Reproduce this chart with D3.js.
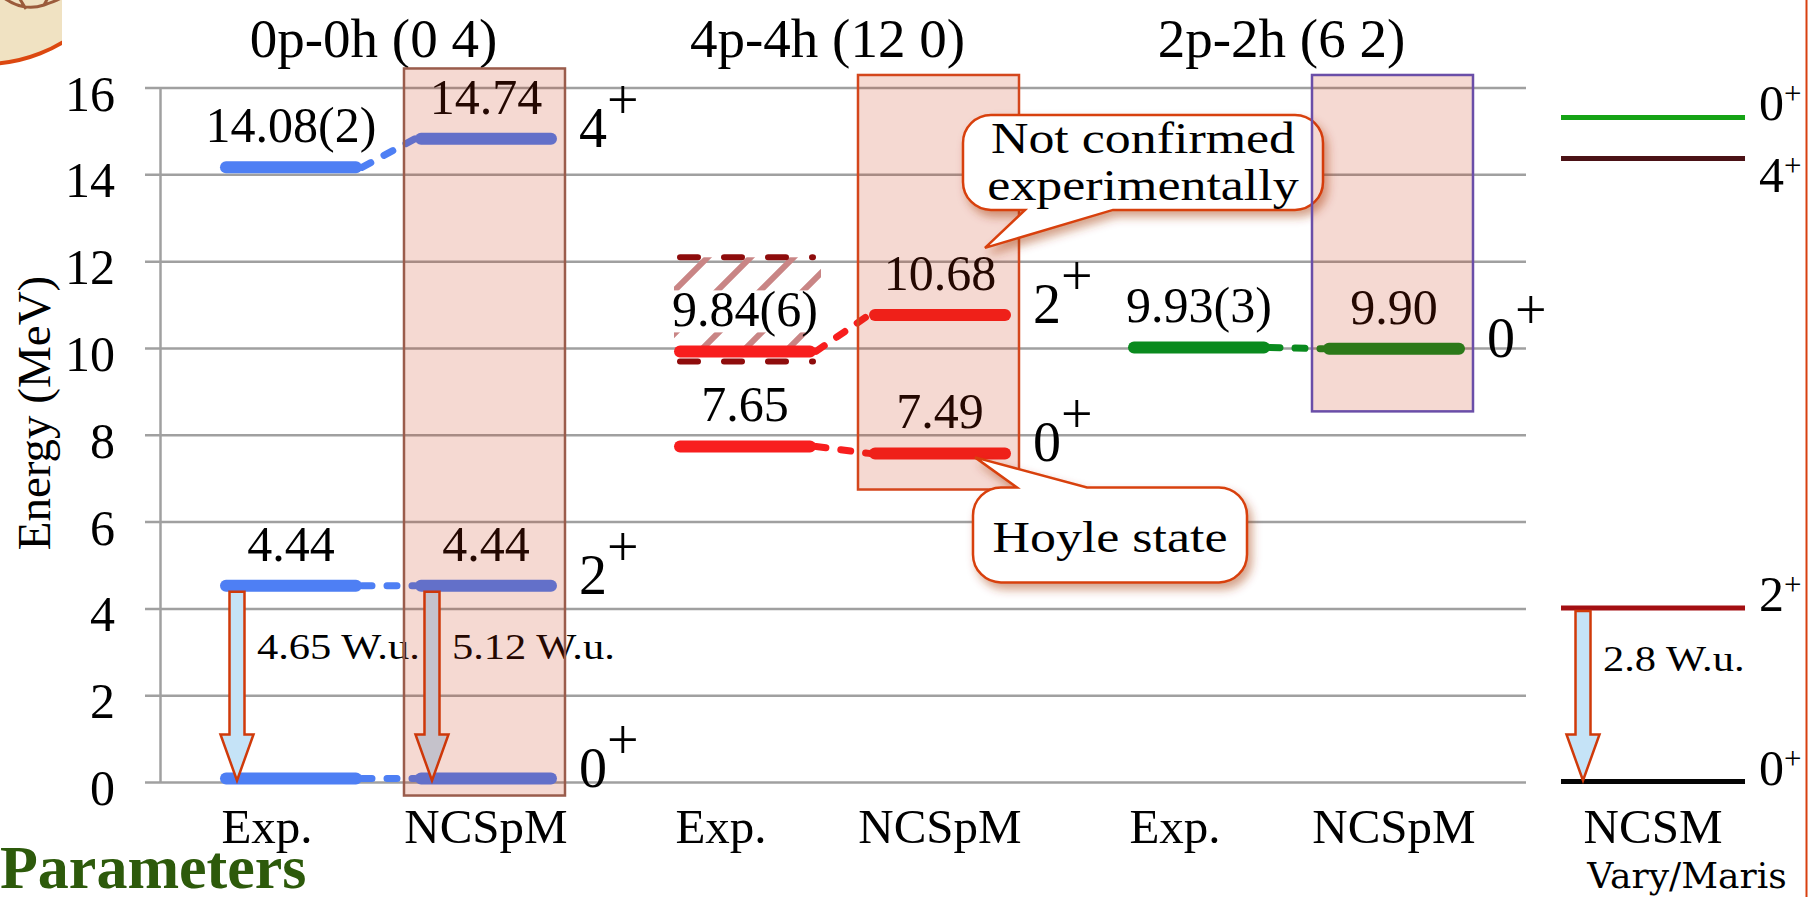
<!DOCTYPE html>
<html>
<head>
<meta charset="utf-8">
<script src="https://cdn.jsdelivr.net/npm/d3@7"></script>
<style>
  html, body { margin: 0; padding: 0; background: #fff; overflow: hidden; }
  svg { display: block; }
</style>
</head>
<body>
<div id="chart"></div>
<script>
// Categories: groups (configurations) and the two models inside each one
const groups = ["0p-0h (0 4)", "4p-4h (12 0)", "2p-2h (6 2)", "NCSM"];
const models = ["Exp.", "NCSpM"];
const columnGroup = [0, 0, 1, 1, 2, 2, 3];
const columnModel = ["Exp.", "NCSpM", "Exp.", "NCSpM", "Exp.", "NCSpM", "Exp."];
const columnLabels = ["Exp.", "NCSpM", "Exp.", "NCSpM", "Exp.", "NCSpM", "NCSM"];
const yTicks = [0, 2, 4, 6, 8, 10, 12, 14, 16];

// Energy levels (MeV)
const levelColumn = [0, 0, 0, 1, 1, 1, 2, 2, 3, 3, 4, 5, 6, 6, 6, 6];
const levelEnergy = [0, 4.44, 14.08, 0, 4.44, 14.74, 7.65, 9.84, 7.49, 10.68, 9.93, 9.90, 0, 4.0, 14.35, 15.3];
const levelText = ["", "4.44", "14.08(2)", "", "4.44", "14.74", "7.65", "9.84(6)", "7.49", "10.68", "9.93(3)", "9.90", "", "", "", ""];
const levelSpin = ["", "", "", "0", "2", "4", "", "", "0", "2", "", "0", "0", "2", "4", "0"];

// Dashed connectors Exp. -> NCSpM (pairs of level indices)
const links = [[0, 3], [1, 4], [2, 5], [6, 8], [7, 9], [10, 11]];

// E2 transitions
const transFrom = [1, 4, 13];
const transTo = [0, 3, 12];
const transText = ["4.65 W.u.", "5.12 W.u.", "2.8 W.u."];

// Highlight boxes round the NCSpM columns (energy range)
const boxColumn = [1, 3, 5];
const boxLow = [-0.3, 6.75, 8.55];
const boxHigh = [16.45, 16.3, 16.3];

// Broad experimental 2+ state (hatched band)
const hatchLevel = 7;
const hatchLow = 9.7;
const hatchHigh = 12.1;

// Callouts
const calloutLevel = [9, 8];
const calloutText = [["Not confirmed", "experimentally"], ["Hoyle state"]];

// Styles
const serif = "'Liberation Serif', 'Times New Roman', serif";
const groupColor = ["#4e7ff4", "#f81e1e", "#0a8a1e"];
const ncsmColor = d3.scaleOrdinal([0, 4.0, 14.35, 15.3], ["#050505", "#a30f12", "#4b1216", "#15a315"]);
const boxStroke = ["#9a5c4c", "#d4461c", "#6a4ea8"];

const width = 1808, height = 897;
const axisX = 160, gridLeft = 145, gridRight = 1526;

const svg = d3.select("#chart")
  .append("svg")
  .attr("width", width)
  .attr("height", height);

const defs = svg.append("defs");

const shadow = defs.append("filter")
  .attr("id", "shadow")
  .attr("x", "-20%").attr("y", "-30%")
  .attr("width", "140%").attr("height", "170%");
shadow.append("feDropShadow")
  .attr("dx", 4).attr("dy", 6)
  .attr("stdDeviation", 5)
  .attr("flood-color", "#a03010")
  .attr("flood-opacity", 0.45);

const hatch = defs.append("pattern")
  .attr("id", "hatch")
  .attr("patternUnits", "userSpaceOnUse")
  .attr("width", 43).attr("height", 43)
  .attr("patternTransform", "translate(19,0)");
hatch.append("path")
  .attr("d", "M-11,11 L11,-11 M0,43 L43,0 M32,54 L54,32")
  .attr("stroke", "#c98585")
  .attr("stroke-width", 6);

defs.append("clipPath").attr("id", "logoClip")
  .append("rect").attr("x", 0).attr("y", 0).attr("width", 62).attr("height", 70);

// Scales
const y = d3.scaleLinear().domain([0, 16]).range([782.5, 88]);
const xGroup = d3.scaleBand().domain(groups).range([193.5, 1945.5]).paddingInner(0.141);
const xModel = d3.scaleBand().domain(models).range([0, xGroup.bandwidth()]);
const colX = c => xGroup(groups[columnGroup[c]]) + xModel(columnModel[c]) + xModel.bandwidth() / 2;

const isNcsm = i => columnGroup[levelColumn[i]] === 3;
const halfBar = i => isNcsm(i) ? 92 : 65;
const barX = i => colX(levelColumn[i]);
const barY = i => y(levelEnergy[i]) - (isNcsm(i) ? 1 : 4);
const barColor = i => isNcsm(i) ? ncsmColor(levelEnergy[i]) : groupColor[columnGroup[levelColumn[i]]];

// Logo fragment in the corner
const logo = svg.append("g").attr("clip-path", "url(#logoClip)");
logo.append("circle")
  .attr("cx", -15).attr("cy", -86).attr("r", 150)
  .attr("fill", "#f0e2c2")
  .attr("stroke", "#dc4810")
  .attr("stroke-width", 4);
logo.append("path")
  .attr("d", "M4,-2 Q24,12 44,5 T64,-4 M26,9 L18,-4 M44,5 L50,-6")
  .attr("fill", "none")
  .attr("stroke", "#9b5b3b")
  .attr("stroke-width", 3);

// Right edge rule
svg.append("line")
  .attr("x1", 1806.5).attr("x2", 1806.5)
  .attr("y1", 0).attr("y2", height)
  .attr("stroke", "#d84010")
  .attr("stroke-width", 2);

// Horizontal gridlines
svg.selectAll(".grid")
  .data(yTicks)
  .join("line")
  .attr("class", "grid")
  .attr("x1", gridLeft).attr("x2", gridRight)
  .attr("y1", d => y(d)).attr("y2", d => y(d))
  .attr("stroke", "#a0a0a0")
  .attr("stroke-width", 2.5);

// Y axis
const yAxis = svg.append("g")
  .attr("transform", `translate(${axisX},0)`)
  .call(d3.axisLeft(y).tickValues(yTicks).tickSize(0).tickPadding(45));
yAxis.select(".domain")
  .attr("stroke", "#a0a0a0")
  .attr("stroke-width", 2.5);
yAxis.selectAll(".tick text")
  .attr("dy", "0.44em")
  .style("font-family", serif)
  .style("font-size", "50px")
  .attr("fill", "#000");

svg.append("text")
  .attr("transform", "translate(50,413) rotate(-90)")
  .attr("text-anchor", "middle")
  .style("font-family", serif)
  .style("font-size", "47px")
  .text("Energy (MeV)");

// Group titles
svg.selectAll(".group-title")
  .data(groups.filter(g => g !== "NCSM"))
  .join("text")
  .attr("class", "group-title")
  .attr("x", g => xGroup(g) + xGroup.bandwidth() / 2 - 15)
  .attr("y", 57)
  .attr("text-anchor", "middle")
  .style("font-family", serif)
  .style("font-size", "55px")
  .text(g => g);

// Column labels (the "Exp." ones sit a little left of their bars)
svg.selectAll(".col-label")
  .data(columnLabels)
  .join("text")
  .attr("class", "col-label")
  .attr("x", (d, i) => colX(i) + (d === "Exp." ? -24 : 0))
  .attr("y", 843)
  .attr("text-anchor", "middle")
  .style("font-family", serif)
  .style("font-size", "49px")
  .text(d => d);

svg.append("text")
  .attr("x", colX(6) + 34)
  .attr("y", 888)
  .attr("text-anchor", "middle")
  .style("font-family", "'DejaVu Serif', serif")
  .style("font-size", "36px")
  .text("Vary/Maris");

svg.append("text")
  .attr("x", 0)
  .attr("y", 888)
  .style("font-family", serif)
  .style("font-size", "62px")
  .style("font-weight", "bold")
  .attr("fill", "#2d5a0b")
  .text("Parameters");

// Hatched band for the broad experimental state
const hx = barX(hatchLevel);
svg.append("rect")
  .attr("x", hx - 71)
  .attr("y", y(hatchHigh))
  .attr("width", 147)
  .attr("height", barY(hatchLevel) - y(hatchHigh))
  .attr("fill", "url(#hatch)");
svg.selectAll(".hatch-edge")
  .data([hatchLow, hatchHigh])
  .join("line")
  .attr("class", "hatch-edge")
  .attr("x1", hx - 65).attr("x2", hx + 68)
  .attr("y1", d => y(d)).attr("y2", d => y(d))
  .attr("stroke", "#8e0c0c")
  .attr("stroke-width", 6)
  .attr("stroke-linecap", "round")
  .attr("stroke-dasharray", "18 26");

// Dashed connectors
svg.selectAll(".link")
  .data(links)
  .join("line")
  .attr("class", "link")
  .attr("x1", d => barX(d[0]) + halfBar(d[0]) + 6)
  .attr("y1", d => barY(d[0]))
  .attr("x2", d => barX(d[1]) - halfBar(d[1]) - 6)
  .attr("y2", d => barY(d[1]))
  .attr("stroke", d => barColor(d[0]))
  .attr("stroke-width", 7)
  .attr("stroke-linecap", "round")
  .attr("stroke-dasharray", "10 15");

// Level bars
const levelIdx = d3.range(levelEnergy.length);
svg.selectAll(".level")
  .data(levelIdx)
  .join("line")
  .attr("class", "level")
  .attr("x1", i => barX(i) - halfBar(i))
  .attr("x2", i => barX(i) + halfBar(i))
  .attr("y1", i => barY(i))
  .attr("y2", i => barY(i))
  .attr("stroke", i => barColor(i))
  .attr("stroke-width", i => isNcsm(i) ? 5 : 12)
  .attr("stroke-linecap", i => isNcsm(i) ? "butt" : "round");

// Value labels
const valueLabels = svg.selectAll(".value")
  .data(levelIdx.filter(i => levelText[i] !== ""))
  .join("text")
  .attr("class", "value")
  .attr("x", i => barX(i))
  .attr("y", i => barY(i) - 25)
  .attr("text-anchor", "middle")
  .style("font-family", serif)
  .style("font-size", "50px")
  .text(i => levelText[i]);

// white text box behind the hatched level's label
valueLabels.filter(i => i === hatchLevel).each(function () {
  const bb = this.getBBox();
  const base = +this.getAttribute("y");
  svg.insert("rect", () => this)
    .attr("x", bb.x - 8)
    .attr("y", base - 36)
    .attr("width", bb.width + 16)
    .attr("height", 42)
    .attr("fill", "#fff");
});

// Spin labels (main columns)
const mainSpins = levelIdx.filter(i => levelSpin[i] !== "" && !isNcsm(i));
const spinText = svg.selectAll(".spin")
  .data(mainSpins)
  .join("text")
  .attr("class", "spin")
  .attr("x", i => barX(i) + halfBar(i) + 28)
  .attr("y", i => barY(i) + 8)
  .style("font-family", serif)
  .style("font-size", "56px");
spinText.append("tspan").text(i => levelSpin[i]);
spinText.append("tspan").attr("dy", "-0.5em").text("+");

// Spin labels (NCSM column), pushed apart when they would overlap
const ncsmSpins = levelIdx.filter(i => isNcsm(i)).sort((a, b) => levelEnergy[b] - levelEnergy[a]);
const ncsmBase = {};
let prevBase = -Infinity;
ncsmSpins.forEach(i => {
  const b = Math.max(y(levelEnergy[i]) + 2, prevBase + 72);
  ncsmBase[i] = b;
  prevBase = b;
});
const ncsmText = svg.selectAll(".spin-ncsm")
  .data(ncsmSpins)
  .join("text")
  .attr("class", "spin-ncsm")
  .attr("x", i => barX(i) + halfBar(i) + 14)
  .attr("y", i => ncsmBase[i])
  .style("font-family", serif)
  .style("font-size", "50px");
ncsmText.append("tspan").text(i => levelSpin[i]);
ncsmText.append("tspan").attr("dy", -16).style("font-size", "31px").text("+");

// Transition arrows
const arrowPath = (x, top, tip) => {
  const head = 46, shaft = 7.5, wing = 16.5;
  const p = d3.path();
  p.moveTo(x - shaft, top);
  p.lineTo(x + shaft, top);
  p.lineTo(x + shaft, tip - head);
  p.lineTo(x + wing, tip - head);
  p.lineTo(x, tip);
  p.lineTo(x - wing, tip - head);
  p.lineTo(x - shaft, tip - head);
  p.closePath();
  return p.toString();
};
const transIdx = d3.range(transFrom.length);
const arrowX = t => barX(transFrom[t]) - halfBar(transFrom[t]) + (isNcsm(transFrom[t]) ? 22 : 11);
svg.selectAll(".arrow")
  .data(transIdx)
  .join("path")
  .attr("class", "arrow")
  .attr("d", t => arrowPath(arrowX(t), y(levelEnergy[transFrom[t]]) + 2, y(levelEnergy[transTo[t]]) - 2))
  .attr("fill", "#c5e3f7")
  .attr("stroke", "#d03a0a")
  .attr("stroke-width", 2.5);
svg.selectAll(".trans-label")
  .data(transIdx)
  .join("text")
  .attr("class", "trans-label")
  .attr("transform", t => {
    const top = y(levelEnergy[transFrom[t]]);
    const bottom = y(levelEnergy[transTo[t]]);
    return `translate(${arrowX(t) + 20},${top + 0.36 * (bottom - top)}) scale(1.18,1)`;
  })
  .style("font-family", serif)
  .style("font-size", "36px")
  .text(t => transText[t]);

// Highlight boxes: the first two sit under the callouts, the last one over them
const drawBox = b => {
  const cx = colX(boxColumn[b]);
  svg.append("rect")
    .attr("x", cx - 82)
    .attr("y", y(boxHigh[b]))
    .attr("width", 161)
    .attr("height", y(boxLow[b]) - y(boxHigh[b]))
    .attr("fill", "rgba(197,47,8,0.18)")
    .attr("stroke", boxStroke[b])
    .attr("stroke-width", 2.5);
};
drawBox(0);
drawBox(1);

// Callouts
function calloutPath(x0, y0, w, h, r, side, b1, b2, tip) {
  const x1 = x0 + w, y1 = y0 + h;
  const p = d3.path();
  p.moveTo(x0 + r, y0);
  if (side === "top") { p.lineTo(b1, y0); p.lineTo(tip[0], tip[1]); p.lineTo(b2, y0); }
  p.lineTo(x1 - r, y0);
  p.arcTo(x1, y0, x1, y0 + r, r);
  p.lineTo(x1, y1 - r);
  p.arcTo(x1, y1, x1 - r, y1, r);
  if (side === "bottom") { p.lineTo(b2, y1); p.lineTo(tip[0], tip[1]); p.lineTo(b1, y1); }
  p.lineTo(x0 + r, y1);
  p.arcTo(x0, y1, x0, y1 - r, r);
  p.lineTo(x0, y0 + r);
  p.arcTo(x0, y0, x0 + r, y0, r);
  p.closePath();
  return p.toString();
}

calloutLevel.forEach((lev, k) => {
  const lines = calloutText[k];
  const g = svg.append("g");
  let box;
  if (k === 0) {
    // bubble above, tail pointing down to the level label
    const tip = [barX(lev) + 45, barY(lev) - 67];
    box = { x: tip[0] - 22, y: tip[1] - 38 - 95, w: 360, h: 95 };
    g.append("path")
      .attr("d", calloutPath(box.x, box.y, box.w, box.h, 28, "bottom", tip[0] + 40, tip[0] + 128, tip));
  } else {
    // bubble below, tail pointing up to the level bar
    const tip = [barX(lev) + 35, barY(lev) + 4];
    box = { x: tip[0] - 2, y: tip[1] + 30, w: 274, h: 95 };
    g.append("path")
      .attr("d", calloutPath(box.x, box.y, box.w, box.h, 28, "top", tip[0] + 42, tip[0] + 112, tip));
  }
  g.select("path")
    .attr("fill", "#fff")
    .attr("stroke", "#d8400c")
    .attr("stroke-width", 2.5)
    .attr("filter", "url(#shadow)");
  const first = lines.length === 1 ? 65 : 38;
  g.selectAll("text")
    .data(lines)
    .join("text")
    .attr("transform", (d, j) => `translate(${box.x + box.w / 2},${box.y + first + j * 47}) scale(1.18,1)`)
    .attr("text-anchor", "middle")
    .style("font-family", serif)
    .style("font-size", "44px")
    .text(d => d);
});

drawBox(2);
</script>
</body>
</html>
